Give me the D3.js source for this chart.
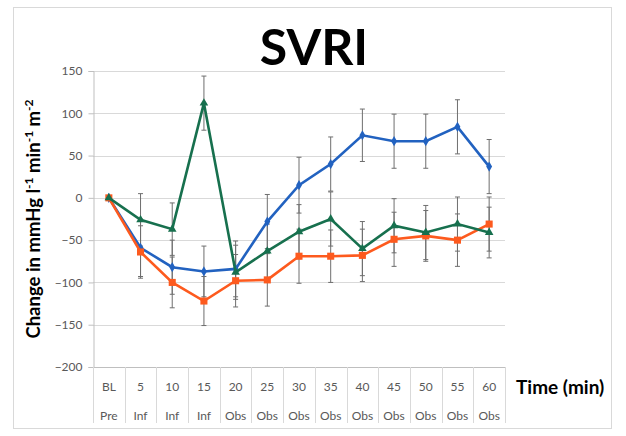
<!DOCTYPE html>
<html>
<head>
<meta charset="utf-8">
<script src="https://cdn.jsdelivr.net/npm/d3@7/dist/d3.min.js"></script>
<style>
  body { margin: 0; background: #fff; }
  text { font-family: Lato, "Open Sans", sans-serif; }
</style>
</head>
<body>
<svg id="chart" width="626" height="436"></svg>
<script>
// category rows of the x axis
const timeLabels = ["BL", "5", "10", "15", "20", "25", "30", "35", "40", "45", "50", "55", "60"];
const phaseLabels = ["Pre", "Inf", "Inf", "Inf", "Obs", "Obs", "Obs", "Obs", "Obs", "Obs", "Obs", "Obs", "Obs"];
const yTicks = [150, 100, 50, 0, -50, -100, -150, -200];

// series values (change from baseline) and error bars
const blueValues = [0, -59, -82, -87, -84, -28, 15, 40, 74, 67, 67, 84, 37];
const blueErrors = [0, 34, 32, 30, 33, 32, 33, 32, 31, 32, 32, 32, 32];
const orangeValues = [0, -64, -100, -122, -98, -97, -69, -69, -68, -49, -45, -50, -31];
const orangeErrors = [0, 31, 30, 29, 31, 31, 32, 31, 31, 32, 30, 31, 32];
const greenValues = [0, -26, -37, 112, -88, -63, -40, -25, -60, -33, -41, -31, -41];
const greenErrors = [0, 31, 31, 32, 32, 32, 32, 32, 32, 32, 32, 32, 30];

const svg = d3.select("#chart");
const margin = { top: 71, left: 93, right: 505, bottom: 367 };

// outer frame
svg.append("rect")
  .attr("x", 13.5).attr("y", 7.5)
  .attr("width", 598).attr("height", 421)
  .attr("fill", "none").attr("stroke", "#d9d9d9");

const x = d3.scaleBand().domain(timeLabels).range([margin.left, margin.right]);
const y = d3.scaleLinear().domain([-200, 150]).range([margin.bottom, margin.top]);

// gridlines
svg.append("g").selectAll("line")
  .data(yTicks)
  .join("line")
  .attr("x1", margin.left).attr("x2", margin.right)
  .attr("y1", d => Math.round(y(d)) + 0.5).attr("y2", d => Math.round(y(d)) + 0.5)
  .attr("stroke", d => d === -200 ? "#bfbfbf" : "#d9d9d9")
  .attr("stroke-width", 1.2);

// y axis
const yAxis = svg.append("g")
  .attr("transform", `translate(${margin.left + 0.5},0)`)
  .call(d3.axisLeft(y).tickValues(yTicks).tickSize(5).tickPadding(6));
yAxis.select(".domain").attr("stroke", "#bfbfbf");
yAxis.selectAll(".tick line").attr("stroke", "#bfbfbf");
yAxis.selectAll(".tick text")
  .attr("fill", "#595959")
  .style("font-size", "12px")
  .style("font-family", "Lato, sans-serif");

// category table below the plot
const bounds = timeLabels.map(d => x(d)).concat([margin.right]);
svg.append("g").selectAll("line")
  .data(bounds)
  .join("line")
  .attr("x1", d => Math.round(d) + 0.5).attr("x2", d => Math.round(d) + 0.5)
  .attr("y1", margin.bottom).attr("y2", 423)
  .attr("stroke", "#d9d9d9");

svg.append("g").selectAll("text")
  .data(timeLabels)
  .join("text")
  .attr("x", d => x(d) + x.bandwidth() / 2)
  .attr("y", 391)
  .attr("text-anchor", "middle")
  .attr("fill", "#595959")
  .style("font-size", "12px")
  .text(d => d);

svg.append("g").selectAll("text")
  .data(phaseLabels)
  .join("text")
  .attr("x", (d, i) => x(timeLabels[i]) + x.bandwidth() / 2)
  .attr("y", 420)
  .attr("text-anchor", "middle")
  .attr("fill", "#595959")
  .style("font-size", "12px")
  .text(d => d);

// titles
svg.append("text")
  .attr("x", 314).attr("y", 65)
  .attr("text-anchor", "middle")
  .style("font-size", "50px").style("font-weight", "bold")
  .attr("fill", "#000")
  .text("SVRI");

svg.append("text")
  .attr("x", 516).attr("y", 394)
  .style("font-size", "19px").style("font-weight", "bold")
  .attr("fill", "#000")
  .text("Time (min)");

const yTitle = svg.append("text")
  .attr("transform", `translate(40,${(margin.top + margin.bottom) / 2}) rotate(-90)`)
  .attr("text-anchor", "middle")
  .style("font-size", "18.5px").style("font-weight", "bold")
  .attr("fill", "#000");
yTitle.append("tspan").text("Change in mmHg l");
yTitle.append("tspan").attr("dy", -7).style("font-size", "12px").text("-1");
yTitle.append("tspan").attr("dy", 7).text(" min");
yTitle.append("tspan").attr("dy", -7).style("font-size", "12px").text("-1");
yTitle.append("tspan").attr("dy", 7).text(" m");
yTitle.append("tspan").attr("dy", -7).style("font-size", "12px").text("-2");

// series
const series = [
  { values: blueValues, errors: blueErrors, color: "#2262c0", marker: d3.symbolDiamond, size: 30 },
  { values: orangeValues, errors: orangeErrors, color: "#fd5a1e", marker: d3.symbolSquare, size: 50 },
  { values: greenValues, errors: greenErrors, color: "#17704e", marker: d3.symbolTriangle, size: 32 }
];
const cx = i => x(timeLabels[i]) + x.bandwidth() / 2;

// error bars
series.forEach(s => {
  const g = svg.append("g").attr("stroke", "#6e6e6e").attr("stroke-width", 1);
  s.values.forEach((v, i) => {
    if (!s.errors[i]) return;
    const top = y(v + s.errors[i]), bot = y(v - s.errors[i]);
    g.append("line").attr("x1", cx(i)).attr("x2", cx(i)).attr("y1", top).attr("y2", bot);
    g.append("line").attr("x1", cx(i) - 2.5).attr("x2", cx(i) + 2.5).attr("y1", top).attr("y2", top);
    g.append("line").attr("x1", cx(i) - 2.5).attr("x2", cx(i) + 2.5).attr("y1", bot).attr("y2", bot);
  });
});

const line = d3.line().x((d, i) => cx(i)).y(d => y(d));
series.forEach(s => {
  svg.append("path")
    .datum(s.values)
    .attr("d", line)
    .attr("fill", "none")
    .attr("stroke", s.color)
    .attr("stroke-width", 2.6);
  svg.append("g").selectAll("path")
    .data(s.values)
    .join("path")
    .attr("transform", (d, i) => `translate(${cx(i)},${y(d)})`)
    .attr("d", d3.symbol().type(s.marker).size(s.size))
    .attr("fill", s.color);
});
</script>
</body>
</html>
